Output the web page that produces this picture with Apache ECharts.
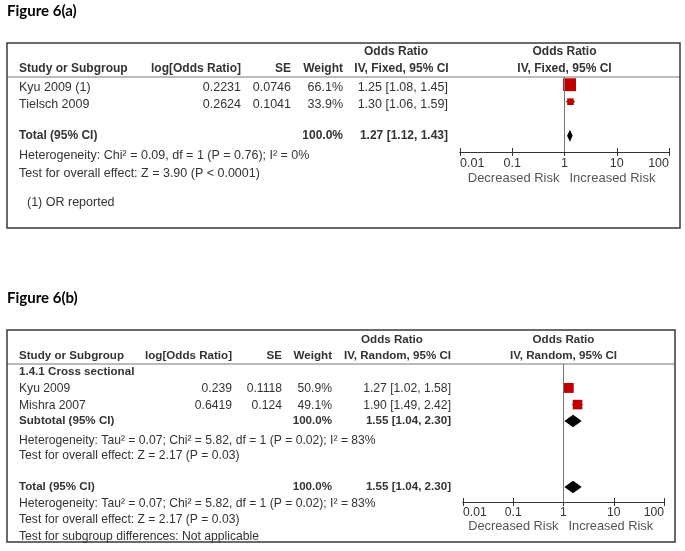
<!DOCTYPE html>
<html>
<head>
<meta charset="utf-8">
<script src="https://cdn.jsdelivr.net/npm/echarts@6/dist/echarts.min.js"></script>
<style>
html, body { margin: 0; padding: 0; background: #fff; }
#chart { width: 685px; height: 551px; }
</style>
</head>
<body>
<div id="chart"></div>
<script>
// Figure 6(a) - fixed effect
const studiesA = ['Kyu 2009 (1)', 'Tielsch 2009'];
const logOrA = [0.2231, 0.2624];
const seA = [0.0746, 0.1041];
const weightA = [66.1, 33.9];
const orA = [1.25, 1.30];
const lowA = [1.08, 1.06];
const highA = [1.45, 1.59];
const totalA = [1.27, 1.12, 1.43];
const hetA = 'Heterogeneity: Chi² = 0.09, df = 1 (P = 0.76); I² = 0%';
const testA = 'Test for overall effect: Z = 3.90 (P < 0.0001)';
const noteA = '(1) OR reported';

// Figure 6(b) - random effects
const subgroupB = '1.4.1 Cross sectional';
const studiesB = ['Kyu 2009', 'Mishra 2007'];
const logOrB = [0.239, 0.6419];
const seB = [0.1118, 0.124];
const weightB = [50.9, 49.1];
const orB = [1.27, 1.90];
const lowB = [1.02, 1.49];
const highB = [1.58, 2.42];
const subtotalB = [1.55, 1.04, 2.30];
const totalB = [1.55, 1.04, 2.30];
const hetB = 'Heterogeneity: Tau² = 0.07; Chi² = 5.82, df = 1 (P = 0.02); I² = 83%';
const testB = 'Test for overall effect: Z = 2.17 (P = 0.03)';
const subgroupTestB = 'Test for subgroup differences: Not applicable';

const tickLabels = ['0.01', '0.1', '1', '10', '100'];

// layout (pixels) - rows are in line units below the header rule
const FONT = '"Liberation Sans", Arial, sans-serif';
const TEXT = '#333';
const figs = [
    {
        title: 'Figure 6(a)', titleY: 12.5, box: [7, 43, 680, 228],
        top: 77, axisY: 152, plotL: 460, plotR: 669, lineH: 17,
        boldSize: 12, normalSize: 12.5, riskSize: 13,
        diamondH: 12, markShift: -2.5,
        cols: { study: 19, note: 27, logOr: 241, se: 291, weight: 343, or: 448, orHead1: 396, orHead2: 401.5 },
    },
    {
        title: 'Figure 6(b)', titleY: 300, box: [7, 330, 675, 542],
        top: 364, axisY: 502, plotL: 463, plotR: 664, lineH: 16,
        boldSize: 11.6, normalSize: 12.15, riskSize: 12.8,
        diamondH: 12.5, markShift: -1,
        cols: { study: 19, note: 27, logOr: 232, se: 282, weight: 332, or: 451, orHead1: 392, orHead2: 397.5 },
    }
];

function fmtCi(est, lo, hi) {
    return est.toFixed(2) + ' [' + lo.toFixed(2) + ', ' + hi.toFixed(2) + ']';
}

function cell(row, text, col, align, bold) {
    return { row: row, text: text, col: col, align: align || 'left', bold: !!bold };
}

function headerCells(method, r1, r2) {
    return [
        cell(r1, 'Odds Ratio', 'orHead1', 'center', true),
        cell(r1, 'Odds Ratio', 'plot', 'center', true),
        cell(r2, 'Study or Subgroup', 'study', 'left', true),
        cell(r2, 'log[Odds Ratio]', 'logOr', 'right', true),
        cell(r2, 'SE', 'se', 'right', true),
        cell(r2, 'Weight', 'weight', 'right', true),
        cell(r2, 'IV, ' + method + ', 95% CI', 'orHead2', 'center', true),
        cell(r2, 'IV, ' + method + ', 95% CI', 'plot', 'center', true),
    ];
}

function studyCells(rows, names, logOr, se, weight, est, lo, hi) {
    let out = [];
    for (let i = 0; i < names.length; ++i) {
        out.push(cell(rows[i], names[i], 'study'));
        out.push(cell(rows[i], String(logOr[i]), 'logOr', 'right'));
        out.push(cell(rows[i], String(se[i]), 'se', 'right'));
        out.push(cell(rows[i], weight[i].toFixed(1) + '%', 'weight', 'right'));
        out.push(cell(rows[i], fmtCi(est[i], lo[i], hi[i]), 'or', 'right'));
    }
    return out;
}

function totalCells(row, label, pooled) {
    return [
        cell(row, label, 'study', 'left', true),
        cell(row, '100.0%', 'weight', 'right', true),
        cell(row, fmtCi(pooled[0], pooled[1], pooled[2]), 'or', 'right', true),
    ];
}

function riskCells(row) {
    return [cell(row, 'Decreased Risk', 'dec', 'right'), cell(row, 'Increased Risk', 'inc', 'left')];
}

const rowsA = [0.6, 1.6];
const cellsA = [].concat(
    headerCells('Fixed', -1.47, -0.47),
    studyCells(rowsA, studiesA, logOrA, seA, weightA, orA, lowA, highA),
    totalCells(3.45, 'Total (95% CI)', totalA),
    [cell(4.6, hetA, 'study'), cell(5.65, testA, 'study'), cell(7.4, noteA, 'note')],
    riskCells(5.95)
);

const rowsB = [1.56, 2.6];
const cellsB = [].concat(
    headerCells('Random', -1.5, -0.5),
    [cell(0.5, subgroupB, 'study', 'left', true)],
    studyCells(rowsB, studiesB, logOrB, seB, weightB, orB, lowB, highB),
    totalCells(3.56, 'Subtotal (95% CI)', subtotalB),
    [cell(4.81, hetB, 'study'), cell(5.75, testB, 'study')],
    totalCells(7.69, 'Total (95% CI)', totalB),
    [cell(8.75, hetB, 'study'), cell(9.75, testB, 'study'), cell(10.81, subgroupTestB, 'study')],
    riskCells(10.16)
);

// marks: [estimate, low, high, weight, row, kind(0 study, 1 pooled)]
const marksA = orA.map((v, i) => [v, lowA[i], highA[i], weightA[i], rowsA[i], 0])
    .concat([[totalA[0], totalA[1], totalA[2], 100, 3.45, 1]]);
const marksB = orB.map((v, i) => [v, lowB[i], highB[i], weightB[i], rowsB[i], 0])
    .concat([[subtotalB[0], subtotalB[1], subtotalB[2], 100, 3.56, 1],
             [totalB[0], totalB[1], totalB[2], 100, 7.69, 1]]);

const allCells = [cellsA, cellsB];
const allMarks = [marksA, marksB];

function makeTextRender(fi) {
    const fig = figs[fi];
    return function (params, api) {
        const c = allCells[fi][api.value(2)];
        const p = api.coord([1, api.value(1)]);
        let x;
        if (c.col === 'plot') x = params.coordSys.x + params.coordSys.width / 2;
        else if (c.col === 'dec') x = p[0] - 5;
        else if (c.col === 'inc') x = p[0] + 5;
        else x = fig.cols[c.col];
        const risk = c.col === 'dec' || c.col === 'inc';
        return {
            type: 'text',
            x: x,
            y: p[1],
            style: {
                text: c.text,
                fill: risk ? '#555' : TEXT,
                fontFamily: FONT,
                fontSize: risk ? fig.riskSize : (c.bold ? fig.boldSize : fig.normalSize),
                fontWeight: c.bold ? 'bold' : 'normal',
                align: c.align,
                verticalAlign: 'middle',
            }
        };
    };
}

function makeMarkRender(fi) {
    const fig = figs[fi];
    return function (params, api) {
        const row = api.value(4);
        const c = api.coord([api.value(0), row]);
        const lo = api.coord([api.value(1), row]);
        const hi = api.coord([api.value(2), row]);
        if (api.value(5) === 1) {
            const h = fig.diamondH / 2;
            return {
                type: 'polygon',
                shape: { points: [[lo[0], c[1]], [c[0], c[1] - h], [hi[0], c[1]], [c[0], c[1] + h]] },
                style: { fill: '#000' }
            };
        }
        const s = api.value(3) * 0.195;
        const y = c[1] + fig.markShift;
        return {
            type: 'group',
            children: [
                { type: 'line', shape: { x1: lo[0], y1: y, x2: hi[0], y2: y }, style: { stroke: '#222', lineWidth: 1 } },
                { type: 'rect', shape: { x: c[0] - s / 2, y: y - s / 2, width: s, height: s }, style: { fill: '#c00000' } },
            ]
        };
    };
}

let option = {
    animation: false,
    grid: [],
    xAxis: [],
    yAxis: [],
    series: [],
    graphic: [],
};

figs.forEach((fig, fi) => {
    option.grid.push({
        left: fig.plotL,
        width: fig.plotR - fig.plotL,
        top: fig.top,
        height: fig.axisY - fig.top,
    });
    const base = {
        type: 'log',
        logBase: 10,
        min: 0.01,
        max: 100,
        splitNumber: 4,
        gridIndex: fi,
        position: 'bottom',
        splitLine: { show: false },
        axisLine: { onZero: false, lineStyle: { color: '#333', width: 1 } },
    };
    option.xAxis.push(Object.assign({}, base, {
        axisTick: { inside: false, length: 4, lineStyle: { color: '#333' } },
        axisLabel: {
            margin: 5,
            color: TEXT,
            fontFamily: FONT,
            fontSize: fig.normalSize,
            alignMinLabel: 'left',
            alignMaxLabel: 'right',
            formatter: function (v) {
                const k = Math.round(Math.log10(v)) + 2;
                return tickLabels[k] || '';
            }
        },
    }));
    option.xAxis.push(Object.assign({}, base, {
        axisTick: { inside: true, length: 4, lineStyle: { color: '#333' } },
        axisLabel: { show: false },
    }));
    option.yAxis.push({
        type: 'value',
        gridIndex: fi,
        inverse: true,
        min: 0,
        max: (fig.axisY - fig.top) / fig.lineH,
        show: false,
    });
    option.series.push({
        type: 'custom',
        xAxisIndex: fi * 2,
        yAxisIndex: fi,
        silent: true,
        renderItem: makeMarkRender(fi),
        data: allMarks[fi],
        markLine: {
            silent: true,
            symbol: 'none',
            label: { show: false },
            lineStyle: { color: '#777', type: 'solid', width: 1 },
            data: [{ xAxis: 1 }],
        },
        z: 3,
    });
    option.series.push({
        type: 'custom',
        xAxisIndex: fi * 2,
        yAxisIndex: fi,
        silent: true,
        renderItem: makeTextRender(fi),
        data: allCells[fi].map((c, i) => [1, c.row, i]),
        z: 4,
    });

    const [bx1, by1, bx2, by2] = fig.box;
    option.graphic.push({
        type: 'text', left: 7, top: fig.titleY - 9,
        style: { text: fig.title, fill: '#000', font: 'bold 15px Lato, "Open Sans", sans-serif' }
    });
    option.graphic.push({
        type: 'rect', shape: { x: bx1, y: by1, width: bx2 - bx1, height: by2 - by1 },
        style: { fill: 'none', stroke: '#3a3a3a', lineWidth: 1.5 }, z: 10
    });
    option.graphic.push({
        type: 'line', shape: { x1: bx1, y1: fig.top, x2: bx2, y2: fig.top },
        style: { stroke: '#777', lineWidth: 1 }
    });
});

let myChart = echarts.init(document.getElementById('chart'));
myChart.setOption(option);
</script>
</body>
</html>
